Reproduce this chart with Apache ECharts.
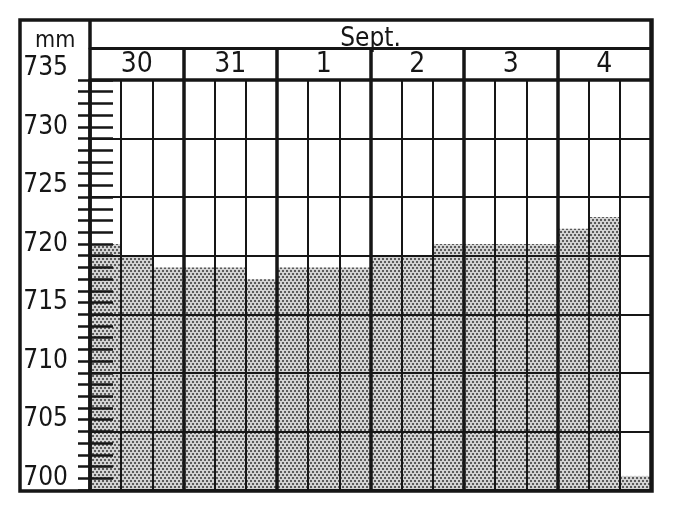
<!DOCTYPE html>
<html>
<head>
<meta charset="utf-8">
<script src="https://cdn.jsdelivr.net/npm/echarts@6/dist/echarts.min.js"></script>
<style>
  html, body { margin: 0; padding: 0; background: #fff; }
  #chart { width: 674px; height: 518px; }
</style>
</head>
<body>
<div id="chart"></div>
<script>
// ---- data ----
const monthLabel = 'Sept.';
const unitLabel = 'mm';
const dayLabels = ['30', '31', '1', '2', '3', '4'];
const readingsPerDay = 3;
// barometric height (mm) for each reading, three per day
const pressure = [720, 719, 718, 718, 718, 717, 718, 718, 718, 719, 719, 720, 720, 720, 720, 721.3, 722.3, 700.2];
const yTickLabels = [700, 705, 710, 715, 720, 725, 730, 735];
const axisBottom = 699;   // chart floor (mm)
const axisTop = 734;      // chart ceiling (mm)

// ---- derived ----
const slots = [];
dayLabels.forEach(d => { for (let i = 0; i < readingsPerDay; i++) slots.push(d + '-' + (i + 1)); });
const span = axisTop - axisBottom;

const W = 674, H = 518;
const gridLeft = 90, gridRight = 23, gridTop = 80, gridBottom = 28;
const pxPerMm = (H - gridTop - gridBottom) / span;
const FONT = "'Liberation Sans Narrow', 'DejaVu Sans Condensed', 'Noto Sans', sans-serif";
const INK = '#161616';

const chart = echarts.init(document.getElementById('chart'), null, { renderer: 'canvas' });
chart.setOption({
  animation: false,
  backgroundColor: '#ffffff',
  title: {
    text: unitLabel, left: 30, top: 25,
    textStyle: { fontFamily: FONT, fontSize: 23, fontWeight: 'normal', color: INK }
  },
  grid: [
    { left: gridLeft, right: gridRight, top: gridTop, bottom: gridBottom },
    { left: gridLeft, right: gridRight, top: gridTop - pxPerMm, bottom: gridBottom }
  ],
  xAxis: [
    { // reading columns
      gridIndex: 0, type: 'category', data: slots, position: 'bottom',
      axisLine: { show: false, onZero: false }, axisTick: { show: false }, axisLabel: { show: false },
      splitLine: { show: true, interval: 0, lineStyle: { color: INK, width: 2 } }
    },
    { // days
      gridIndex: 0, type: 'category', data: dayLabels, position: 'top', offset: 0,
      axisLine: { show: true, onZero: false, lineStyle: { color: INK, width: 3.5 } },
      axisTick: { show: true, inside: false, length: 32, interval: 0, lineStyle: { color: INK, width: 3.5 } },
      axisLabel: { show: true, interval: 0, margin: 1, fontFamily: FONT, fontSize: 28, color: INK },
      splitLine: { show: true, interval: 0, lineStyle: { color: INK, width: 3.5 } }
    },
    { // month
      gridIndex: 0, type: 'category', data: [monthLabel], position: 'top', offset: 32,
      axisLine: { show: true, onZero: false, lineStyle: { color: INK, width: 3 } },
      axisTick: { show: true, inside: false, length: 28, lineStyle: { color: INK, width: 3.5 } },
      axisLabel: { show: true, margin: -4, fontFamily: FONT, fontSize: 26, color: INK },
      splitLine: { show: false }
    },
    { gridIndex: 1, type: 'category', data: slots, show: false, axisLine: { onZero: false } }
  ],
  yAxis: [
    { // outer ticks + axis line
      gridIndex: 0, type: 'value', position: 'left', offset: 0, min: 0, max: span, interval: 1,
      axisLine: { show: true, onZero: false, lineStyle: { color: INK, width: 3.5 } },
      axisTick: { show: true, inside: false, length: 12, lineStyle: { color: INK, width: 2.5 } },
      axisLabel: { show: false }, splitLine: { show: false }
    },
    { // inner ticks
      gridIndex: 0, type: 'value', position: 'left', offset: 0, min: 0, max: span, interval: 1,
      axisLine: { show: false, onZero: false },
      axisTick: { show: true, inside: true, length: 23, lineStyle: { color: INK, width: 2.5 } },
      axisLabel: { show: false }, splitLine: { show: false }
    },
    { // horizontal rules every 5 mm from the floor
      gridIndex: 0, type: 'value', position: 'left', offset: 0, min: 0, max: span, interval: 5,
      axisLine: { show: false, onZero: false }, axisTick: { show: false }, axisLabel: { show: false },
      splitLine: { show: true, lineStyle: { color: INK, width: 2 } }
    },
    { // labels
      gridIndex: 1, type: 'value', position: 'left', offset: 0, min: 0, max: span + 1, interval: 1,
      axisLine: { show: false, onZero: false }, axisTick: { show: false }, splitLine: { show: false },
      axisLabel: {
        show: true, margin: 22, fontFamily: FONT, fontSize: 26, color: INK,
        formatter: v => { const mm = Math.round(v + axisBottom); return yTickLabels.includes(mm) ? String(mm) : ''; }
      }
    }
  ],
  series: [{
    type: 'bar', xAxisIndex: 0, yAxisIndex: 0, z: -1, silent: true,
    barCategoryGap: '0%', barGap: '0%',
    data: pressure.map(v => +(v - axisBottom).toFixed(2)),
    itemStyle: {
      color: '#d2d2d2',
      decal: {
        symbol: 'circle', symbolSize: 1, color: '#333333',
        dashArrayX: [[2, 2], [0, 2, 2, 0]], dashArrayY: [2, 1], rotation: 0
      }
    }
  }],
  graphic: [{
    type: 'rect', z: 100, silent: true,
    shape: { x: 20, y: 20, width: W - gridRight - 20 + 1, height: H - gridBottom - 20 + 1 },
    style: { fill: null, stroke: INK, lineWidth: 3.5 }
  }]
});
</script>
</body>
</html>
